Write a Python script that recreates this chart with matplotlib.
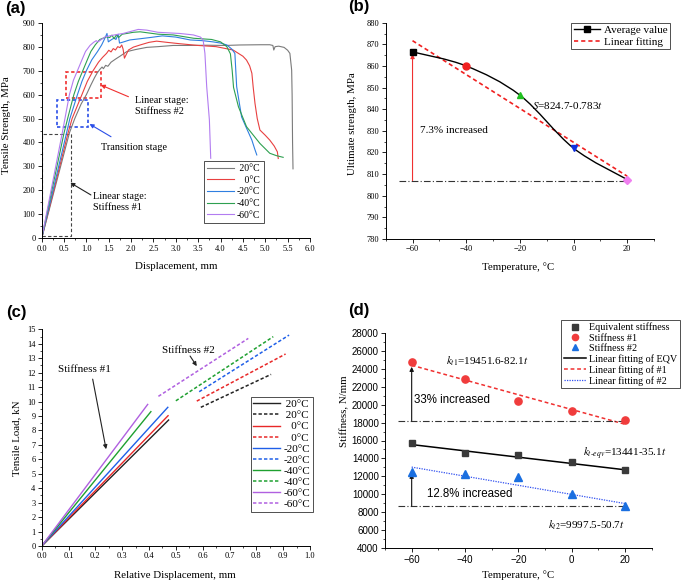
import numpy as np
import matplotlib
matplotlib.use('Agg')
import matplotlib.pyplot as plt
from matplotlib.lines import Line2D
from matplotlib.path import Path
from matplotlib.patches import PathPatch, Rectangle
from matplotlib.ticker import MultipleLocator

# ---------------- data ----------------
# (a) tensile curves: displacement (mm) / strength (MPa)
disp_20 = [0, 0.62, 0.74, 0.88, 1.0, 1.1, 1.18, 1.24, 1.3, 1.35, 1.38, 1.43, 1.48, 1.55, 1.65, 1.75, 1.9, 2.1, 2.35, 2.6,
           2.94, 3.3, 3.7, 4.1, 4.43, 4.9, 5.1, 5.17, 5.19, 5.22, 5.3, 5.42, 5.5, 5.55, 5.59, 5.6, 5.61, 5.62]
stress_20 = [0, 440, 500, 560, 600, 640, 670, 690, 705, 715, 708, 722, 718, 735, 748, 760, 779, 788, 797, 800,
             805, 805, 806, 805, 807, 808, 808, 805, 786, 800, 802, 797, 785, 772, 702, 600, 400, 290]
disp_0 = [0, 0.59, 0.68, 0.9, 1.02, 1.15, 1.27, 1.36, 1.45, 1.5, 1.55, 1.6, 1.65, 1.7, 1.75, 1.79, 1.82, 1.85, 1.94,
          2.05, 2.2, 2.4, 2.57, 2.8, 3.1, 3.5, 3.9, 4.28, 4.5, 4.58, 4.65, 4.7, 4.73, 4.77, 4.82, 4.88, 5.0, 5.1,
          5.2, 5.27, 5.29]
stress_0 = [0, 440, 500, 600, 655, 700, 735, 755, 772, 785, 778, 792, 786, 800, 796, 807, 790, 752, 786,
            798, 807, 818, 823, 818, 812, 805, 800, 786, 760, 744, 720, 689, 630, 563, 500, 452, 430, 410,
            385, 361, 333]
disp_m20 = [0, 0.556, 0.63, 0.8, 0.9, 1.0, 1.12, 1.25, 1.34, 1.4, 1.46, 1.49, 1.55, 1.62, 1.66, 1.71, 1.74, 1.8,
            1.97, 2.2, 2.42, 2.7, 3.0, 3.32, 3.6, 3.83, 4.0, 4.14, 4.25, 4.32, 4.36, 4.47, 4.58, 4.7, 4.76, 4.81]
stress_m20 = [0, 440, 500, 600, 655, 700, 745, 780, 807, 830, 855, 820, 828, 836, 830, 852, 815, 818,
              828, 833, 838, 845, 840, 828, 825, 820, 815, 807, 790, 772, 633, 507, 460, 410, 375, 348]
disp_m40 = [0, 0.5, 0.58, 0.72, 0.82, 0.92, 1.02, 1.1, 1.2, 1.3, 1.45, 1.52, 1.57, 1.62, 1.67, 1.72, 1.8, 1.9,
            2.05, 2.2, 2.6, 2.94, 3.4, 3.8, 4.0, 4.14, 4.22, 4.26, 4.29, 4.4, 4.58, 4.88, 5.1, 5.25, 5.4]
stress_m40 = [0, 440, 500, 600, 655, 700, 745, 780, 808, 830, 841, 838, 848, 833, 850, 838, 852, 855,
              860, 862, 852, 849, 835, 830, 820, 800, 770, 700, 630, 549, 466, 396, 355, 345, 338]
disp_m60 = [0, 0.46, 0.52, 0.62, 0.71, 0.8, 0.9, 0.98, 1.08, 1.16, 1.22, 1.26, 1.32, 1.42, 1.6, 1.82, 2.0, 2.16,
            2.35, 2.6, 3.09, 3.39, 3.55, 3.61, 3.65, 3.69, 3.75, 3.78]
stress_m60 = [0, 440, 500, 600, 660, 700, 745, 780, 805, 818, 825, 820, 828, 841, 848, 855, 864, 872,
              869, 860, 855, 849, 840, 828, 772, 633, 494, 334]

# (b) ultimate strength vs temperature
temps = [-60, -40, -20, 0, 20]
ult_strength = [866.5, 860.0, 846.5, 822.0, 807.5]
fit_S = (824.7, -0.783)
S_base = 807

# (c) load-displacement stiffness lines (end points)
k1_end_x = [0.473, 0.471, 0.470, 0.407, 0.395]
k1_end_y = [8.72, 9.02, 9.60, 9.30, 9.80]
k2_x0 = [0.593, 0.578, 0.587, 0.500, 0.435]
k2_y0 = [9.60, 10.03, 10.68, 10.05, 10.36]
k2_x1 = [0.855, 0.909, 0.922, 0.863, 0.770]
k2_y1 = [11.88, 13.29, 14.60, 14.49, 14.37]

# (d) stiffness vs temperature
eqv_stiff = [15700, 14600, 14350, 13570, 12680]
stiff1 = [24750, 22800, 20430, 19280, 18330]
stiff2 = [12500, 12300, 11900, 10080, 8670]
fit_eqv = (13441, -35.1)
fit_k1 = (19451.6, -82.1)
fit_k2 = (9997.5, -50.7)
k1_base, k2_base = 18200, 8700

# ---------------- style ----------------
plt.rcParams['font.family'] = ['Liberation Serif', 'DejaVu Serif']
plt.rcParams['mathtext.fontset'] = 'stix'
SANS = 'Liberation Sans'

W, H = 685, 583
fig = plt.figure(figsize=(W / 100, H / 100), dpi=100)


def axes_px(l, t, r, b):
    return fig.add_axes([l / W, 1 - b / H, (r - l) / W, (b - t) / H])


def style_ax(ax, size=6):
    for s in ['top', 'right']:
        ax.spines[s].set_visible(False)
    for s in ['left', 'bottom']:
        ax.spines[s].set_linewidth(0.7)
    ax.tick_params(which='major', direction='out', length=3, width=0.6, labelsize=size, pad=1.5)
    ax.tick_params(which='minor', direction='out', length=1.6, width=0.5)


def arrow(ax, tail, tip, color):
    ax.annotate('', xy=tip, xytext=tail,
                arrowprops=dict(arrowstyle='-|>', color=color, lw=0.8, mutation_scale=6,
                                shrinkA=0, shrinkB=0))


colors_a = ['#7a7a7a', '#e84040', '#2f7fe0', '#2ea050', '#b27cf0']
colors_c = ['#222222', '#e82828', '#1f5fe8', '#1fa030', '#b060e0']

# ---------------- (a) ----------------
axa = axes_px(41.7, 22.7, 310, 238.3)
style_ax(axa)
curves = [(disp_20, stress_20), (disp_0, stress_0), (disp_m20, stress_m20),
          (disp_m40, stress_m40), (disp_m60, stress_m60)]
a_labels = [' 20°C', '   0°C', '-20°C', '-40°C', '-60°C']
for (x, y), c, lab in zip(curves, colors_a, a_labels):
    axa.plot(x, y, color=c, lw=0.8, label=lab)
axa.set_xlim(0, 6)
axa.set_ylim(0, 900)
axa.xaxis.set_major_locator(MultipleLocator(0.5))
axa.xaxis.set_minor_locator(MultipleLocator(0.25))
axa.yaxis.set_major_locator(MultipleLocator(100))
axa.yaxis.set_minor_locator(MultipleLocator(50))
axa.xaxis.set_major_formatter(lambda v, p: f'{v:.1f}')

axa.add_patch(Rectangle((0, 10), 0.65, 425, fill=False, ec='#444444', lw=0.8, ls=(0, (3, 2))))
axa.add_patch(Rectangle((0.35, 465), 0.68, 112, fill=False, ec='#2a4ee8', lw=1.2, ls=(0, (2, 1.5))))
axa.add_patch(Rectangle((0.55, 584), 0.78, 111, fill=False, ec='#f03030', lw=1.2, ls=(0, (2, 1.5))))
arrow(axa, (1.94, 591), (1.32, 640), '#f03030')
arrow(axa, (1.55, 424), (1.07, 477), '#2a4ee8')
arrow(axa, (1.10, 181), (0.64, 232), '#222222')
axa.text(2.09, 552, 'Linear stage:\nStiffness #2', fontsize=7.4, va='center', linespacing=1.35)
axa.text(1.33, 378, 'Transition stage', fontsize=7.4, va='center')
axa.text(1.14, 151, 'Linear stage:\nStiffness #1', fontsize=7.4, va='center', linespacing=1.35)

leg = axa.legend(loc='upper left', bbox_to_anchor=(0.605, 0.3585), borderaxespad=0, fontsize=7,
                 fancybox=False, edgecolor='#333333', handlelength=2.8, labelspacing=0.28,
                 borderpad=0.3, handletextpad=0.3, framealpha=1)
leg.get_frame().set_linewidth(0.6)
fig.text(6.5 / W, 1 - 125 / H, 'Tensile Strength, MPa', rotation=90, ha='center', va='center', fontsize=7.8)
fig.text(176.7 / W, 1 - 266.7 / H, 'Displacement, mm', ha='center', va='center', fontsize=7.8)

# ---------------- (b) ----------------
axb = axes_px(385.7, 22.7, 654, 239)
style_ax(axb)
axb.set_xlim(-70, 30)
axb.set_ylim(780, 880)
axb.xaxis.set_major_locator(MultipleLocator(20))
axb.xaxis.set_minor_locator(MultipleLocator(10))
axb.yaxis.set_major_locator(MultipleLocator(10))
axb.yaxis.set_minor_locator(MultipleLocator(5))

# smooth average curve drawn as a bezier path through the points
pts = np.column_stack([temps, ult_strength]).astype(float)
verts, codes = [pts[0]], [Path.MOVETO]
for i in range(len(pts) - 1):
    p0, p1, p2, p3 = pts[max(i - 1, 0)], pts[i], pts[i + 1], pts[min(i + 2, len(pts) - 1)]
    verts += [p1 + (p2 - p0) / 6, p2 - (p3 - p1) / 6, p2]
    codes += [Path.CURVE4] * 3
axb.add_patch(PathPatch(Path(verts, codes), fill=False, ec='black', lw=1.0, zorder=3))

tfit = np.array([temps[0], temps[-1]])
axb.plot(tfit, fit_S[0] + fit_S[1] * tfit, color='#f02020', lw=1.2, ls=(0, (2.5, 1.8)), zorder=2)
axb.plot([-65, temps[-1]], [S_base, S_base], color='#333333', lw=0.8, ls=(0, (6, 2, 1, 2)))
arrow(axb, (temps[0], S_base), (temps[0], ult_strength[0] - 1), '#f03030')

mk = [('s', 'black'), ('o', '#f02020'), ('^', '#20c020'), ('v', '#1030e0'), ('D', '#f080f0')]
for t, s, (m, c) in zip(temps, ult_strength, mk):
    axb.plot(t, s, marker=m, color=c, ms=5 if m != 'D' else 4.3, ls='none', zorder=4)
axb.text(-57.1, 830, '7.3% increased', fontsize=8, va='center')
axb.text(-15.5, 841.5, '$S$=824.7-0.783$t$', fontsize=8, va='center')
hb = [Line2D([], [], color='black', marker='s', ms=4, lw=1.0),
      Line2D([], [], color='#f02020', lw=1.2, ls=(0, (2.5, 1.8)))]
leg = axb.legend(hb, ['Average value', 'Linear fitting'], loc='upper right', bbox_to_anchor=(1.06, 1.0),
                 borderaxespad=0, fontsize=8, fancybox=False, edgecolor='#333333', handlelength=2.4,
                 labelspacing=0.15, borderpad=0.25, handletextpad=0.3, framealpha=1)
leg.get_frame().set_linewidth(0.6)
fig.text(353 / W, 1 - 124 / H, 'Ultimate strength, MPa', rotation=90, ha='center', va='center', fontsize=7.8)
fig.text(518 / W, 1 - 266.7 / H, 'Temperature, °C', ha='center', va='center', fontsize=7.8)

# ---------------- (c) ----------------
axc = axes_px(41.7, 329.3, 310, 546)
style_ax(axc)
axc.set_xlim(0, 1.0)
axc.set_ylim(0, 15)
axc.xaxis.set_major_locator(MultipleLocator(0.1))
axc.xaxis.set_minor_locator(MultipleLocator(0.05))
axc.yaxis.set_major_locator(MultipleLocator(1))
axc.yaxis.set_minor_locator(MultipleLocator(0.5))
axc.xaxis.set_major_formatter(lambda v, p: f'{v:.1f}')
c_leg = [' 20°C', '   0°C', '-20°C', '-40°C', '-60°C']
for i, c in enumerate(colors_c):
    axc.plot([0, k1_end_x[i]], [0, k1_end_y[i]], color=c, lw=1.0, label=c_leg[i])
    axc.plot([k2_x0[i], k2_x1[i]], [k2_y0[i], k2_y1[i]], color=c, lw=1.1, ls=(0, (2.2, 1.4)),
             label=c_leg[i])
axc.text(0.16, 12.25, 'Stiffness #1', fontsize=8, ha='center', va='center')
axc.text(0.546, 13.5, 'Stiffness #2', fontsize=8, ha='center', va='center')
arrow(axc, (0.19, 11.55), (0.24, 6.7), '#222222')
arrow(axc, (0.553, 13.15), (0.578, 12.45), '#222222')
leg = axc.legend(loc='upper left', bbox_to_anchor=(0.779, 0.689), borderaxespad=0, fontsize=8,
                 fancybox=False, edgecolor='#333333', handlelength=2.4, labelspacing=0.12,
                 borderpad=0.25, handletextpad=0.3, framealpha=1)
leg.get_frame().set_linewidth(0.6)
fig.text(17 / W, 1 - 438 / H, 'Tensile Load, kN', rotation=90, ha='center', va='center', fontsize=7.8)
fig.text(175 / W, 1 - 575 / H, 'Relative Displacement, mm', ha='center', va='center', fontsize=7.8)

# ---------------- (d) ----------------
axd = axes_px(385, 332.7, 651.7, 548.3)
style_ax(axd, size=7)
axd.tick_params(labelfontfamily=SANS)
axd.set_xlim(-70, 30)
axd.set_ylim(4000, 28000)
axd.xaxis.set_major_locator(MultipleLocator(20))
axd.xaxis.set_minor_locator(MultipleLocator(10))
axd.yaxis.set_major_locator(MultipleLocator(2000))
axd.yaxis.set_minor_locator(MultipleLocator(1000))

axd.plot(tfit, fit_eqv[0] + fit_eqv[1] * tfit, color='black', lw=1.1)
axd.plot(tfit, fit_k1[0] + fit_k1[1] * tfit, color='#f03030', lw=1.1, ls=(0, (2.5, 1.8)))
axd.plot(tfit, fit_k2[0] + fit_k2[1] * tfit, color='#3050f0', lw=0.9, ls=(0, (1, 1)))
for base in [k1_base, k2_base]:
    axd.plot([-65, temps[-1]], [base, base], color='#333333', lw=0.8, ls=(0, (6, 2, 1, 2)))
arrow(axd, (temps[0], k1_base), (temps[0], 24200), '#111111')
arrow(axd, (temps[0], k2_base), (temps[0], 12300), '#111111')
axd.plot(temps, eqv_stiff, 's', color='#3a3a3a', ms=4.2, zorder=4)
axd.plot(temps, stiff1, 'o', color='#f03c3c', ms=5.2, zorder=4)
axd.plot(temps, stiff2, '^', color='#1a6fe0', ms=5.2, zorder=4)

axd.text(-47.3, 24800, '$k_{t1}$=19451.6-82.1$t$', fontsize=8, va='center')
axd.text(-59.1, 20500, '33% increased', fontsize=8.3, va='center', family=SANS)
axd.text(4.1, 14500, '$k_{t\\text{-}eqv}$=13441-35.1$t$', fontsize=8, va='center')
axd.text(-54.2, 10040, '12.8% increased', fontsize=8.3, va='center', family=SANS)
axd.text(-8.9, 6590, '$k_{t2}$=9997.5-50.7$t$', fontsize=8, va='center')

hd = [Line2D([], [], color='#3a3a3a', marker='s', ms=4, ls='none'),
      Line2D([], [], color='#f03c3c', marker='o', ms=4.5, ls='none'),
      Line2D([], [], color='#1a6fe0', marker='^', ms=4.5, ls='none'),
      Line2D([], [], color='black', lw=1.1),
      Line2D([], [], color='#f03030', lw=1.1, ls=(0, (2.5, 1.8))),
      Line2D([], [], color='#3050f0', lw=0.9, ls=(0, (1, 1)))]
d_labels = ['Equivalent stiffness', 'Stiffness #1', 'Stiffness #2', 'Linear fitting of EQV',
            'Linear fitting of #1', 'Linear fitting of #2']
leg = axd.legend(hd, d_labels, loc='upper right', bbox_to_anchor=(1.106, 1.059), borderaxespad=0,
                 fontsize=7.3, fancybox=False, edgecolor='#333333', handlelength=2.2, labelspacing=0.12,
                 borderpad=0.25, handletextpad=0.3, framealpha=1)
leg.get_frame().set_linewidth(0.6)
fig.text(345 / W, 1 - 411 / H, 'Stiffness, N/mm', rotation=90, ha='center', va='center', fontsize=7.8)
fig.text(518 / W, 1 - 575 / H, 'Temperature, °C', ha='center', va='center', fontsize=7.8)

# panel letters
for x, y, s in [(5, 8, '(a)'), (348, 7, '(b)'), (6, 312, '(c)'), (348, 310, '(d)')]:
    fig.text(x / W, 1 - y / H, s, fontsize=12, fontweight='bold', family=SANS, va='center')

fig.savefig('out.png', dpi=100)
plt.close()
